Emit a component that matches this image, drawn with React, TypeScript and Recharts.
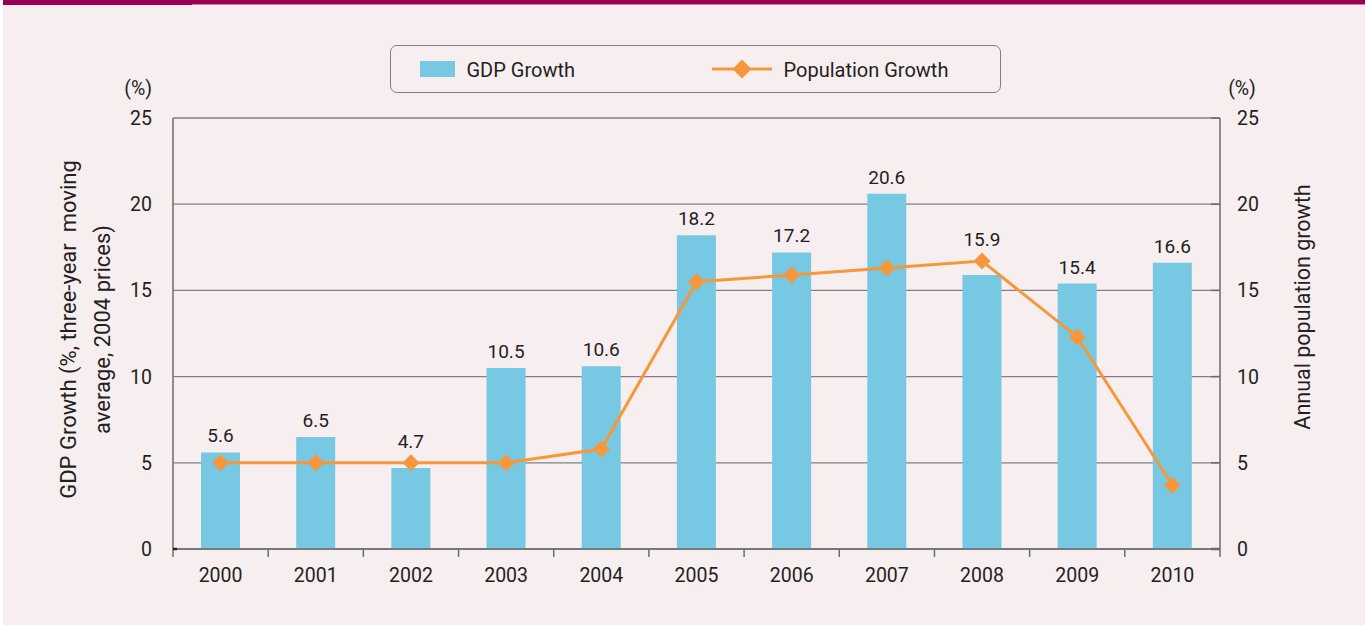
import { ComposedChart, Bar, Line, XAxis, YAxis, CartesianGrid, LabelList } from 'recharts';

const FONT = "Roboto, 'Liberation Sans', sans-serif";

const years = ['2000', '2001', '2002', '2003', '2004', '2005', '2006', '2007', '2008', '2009', '2010'];
const gdpGrowth = [5.6, 6.5, 4.7, 10.5, 10.6, 18.2, 17.2, 20.6, 15.9, 15.4, 16.6];
const populationGrowth = [5.0, 5.0, 5.0, 5.0, 5.8, 15.5, 15.9, 16.3, 16.7, 12.3, 3.7];
const yTicks = [0, 5, 10, 15, 20, 25];

const GDP_NAME = 'GDP Growth';
const POP_NAME = 'Population Growth';
const LEFT_TITLE = ['GDP Growth (%, three-year  moving', 'average, 2004 prices)'];
const RIGHT_TITLE = 'Annual population growth';

const BAR = '#76c8e3';
const LINE = '#f7973b';
const AXIS = '#6b6b6b';
const GRID = '#808080';
const TEXT = '#231f20';
const BG = '#f7eef0';

const data = years.map((year, i) => ({ year, gdp: gdpGrowth[i], pop: populationGrowth[i] }));

const Diamond = ({ cx, cy, r = 8.5 }: any) => {
  if (cx == null || cy == null) return null;
  return <path d={`M${cx},${cy - r}L${cx + r},${cy}L${cx},${cy + r}L${cx - r},${cy}Z`} fill={LINE} />;
};

const YearTick = (props: any) => {
  const { x, y, payload, index, visibleTicksCount, width } = props;
  const half = payload.offset || width / visibleTicksCount / 2;
  const last = index === visibleTicksCount - 1;
  return (
    <g>
      <line x1={x - half} x2={x - half} y1={y} y2={y + 8} stroke={AXIS} strokeWidth={1.5} />
      {last && <line x1={x + half} x2={x + half} y1={y} y2={y + 8} stroke={AXIS} strokeWidth={1.5} />}
      <text x={x} y={y + 33} textAnchor="middle" fill={TEXT} fontSize={19.5} fontFamily={FONT}>
        {payload.value}
      </text>
    </g>
  );
};

const LeftTick = (props: any) => {
  const { x, y, payload } = props;
  return (
    <g>
      {payload.value === 0 && <line x1={x} x2={x + 4} y1={y} y2={y} stroke={TEXT} strokeWidth={2.5} />}
      <text x={x - 21} y={y + 7} textAnchor="end" fill={TEXT} fontSize={19.5} fontFamily={FONT}>
        {payload.value}
      </text>
    </g>
  );
};

const RightTick = (props: any) => {
  const { x, y, payload } = props;
  return (
    <g>
      <line x1={x - 9} x2={x} y1={y} y2={y} stroke={AXIS} strokeWidth={payload.value === 0 ? 2.5 : 1.5} />
      <text x={x + 17} y={y + 7} textAnchor="start" fill={TEXT} fontSize={19.5} fontFamily={FONT}>
        {payload.value}
      </text>
    </g>
  );
};

const LeftTitle = ({ viewBox }: any) => {
  const { x, y, width, height } = viewBox;
  const cy = y + height / 2 - 4;
  return (
    <g fill={TEXT} fontFamily={FONT}>
      <text x={x + width - 21} y={y - 30} textAnchor="end" dominantBaseline="central" fontSize={19.5}>(%)</text>
      {LEFT_TITLE.map((line, i) => {
        const tx = x + 68 + i * 34;
        return (
          <text key={i} x={tx} y={cy} transform={`rotate(-90 ${tx} ${cy})`} textAnchor="middle"
            dominantBaseline="central" fontSize={22} style={{ whiteSpace: 'pre' }}>
            {line}
          </text>
        );
      })}
    </g>
  );
};

const RightTitle = ({ viewBox }: any) => {
  const { x, y } = viewBox;
  const tx = x + 82;
  const cy = y + 189;
  return (
    <g fill={TEXT} fontFamily={FONT}>
      <text x={x + 22} y={y - 30} textAnchor="middle" dominantBaseline="central" fontSize={19.5}>(%)</text>
      <text x={tx} y={cy} transform={`rotate(-90 ${tx} ${cy})`} textAnchor="middle"
        dominantBaseline="central" fontSize={21.5}>
        {RIGHT_TITLE}
      </text>
    </g>
  );
};

const BarValueLabel = (props: any) => {
  const { x, y, width, height, value, index } = props;
  const perUnit = height / value;
  const lineY = y + height - populationGrowth[index] * perUnit;
  const base = Math.min(y - 10, lineY - 15);
  return (
    <text x={x + width / 2} y={base} textAnchor="middle" fill={TEXT} fontSize={19} fontFamily={FONT}>
      {Number(value).toFixed(1)}
    </text>
  );
};

const ChartLegend = () => (
  <div
    style={{
      position: 'absolute', left: 390, top: 45, width: 611, height: 48, boxSizing: 'border-box',
      border: `1.5px solid ${GRID}`, borderRadius: 7, fontFamily: FONT, fontSize: 20, color: TEXT,
    }}
  >
    <div style={{ position: 'absolute', left: 28.5, top: 14.5, width: 35, height: 16, background: BAR }} />
    <div style={{ position: 'absolute', left: 75.5, top: 12, lineHeight: '24px' }}>{GDP_NAME}</div>
    <svg style={{ position: 'absolute', left: 321, top: 11.5 }} width={60} height={22}>
      <line x1={0} x2={60} y1={11} y2={11} stroke={LINE} strokeWidth={3} />
      <Diamond cx={30} cy={11} r={9.5} />
    </svg>
    <div style={{ position: 'absolute', left: 392.5, top: 12, lineHeight: '24px' }}>{POP_NAME}</div>
  </div>
);

export default function App() {
  return (
    <div style={{ position: 'absolute', left: 0, top: 0, width: 1366, height: 626, background: '#ffffff', overflow: 'hidden' }}>
      <div style={{ position: 'absolute', left: 3, top: 0, width: 1362, height: 625, background: BG }} />
      <div style={{ position: 'absolute', left: 3, top: 0, width: 1362, height: 4, background: '#9c0050' }} />
      <div style={{ position: 'absolute', left: 3, top: 0, width: 189, height: 5, background: '#9c0050' }} />
      <div style={{ position: 'absolute', left: 192, top: 4, width: 1173, height: 1, background: '#cf7fa6' }} />
      <div style={{ position: 'absolute', left: 0, top: 0 }}>
        <ComposedChart width={1366} height={626} data={data} margin={{ top: 118, right: 0, bottom: 0, left: 0 }}
          barCategoryGap={0}>
          <CartesianGrid yAxisId="left" vertical={false} stroke={GRID} strokeWidth={1.3} />
          <XAxis dataKey="year" height={77} tickSize={0} tickMargin={0} tickLine={false}
            axisLine={{ stroke: AXIS, strokeWidth: 1.5 }} tick={<YearTick />} interval={0} />
          <YAxis yAxisId="left" orientation="left" width={173} domain={[0, 25]} ticks={yTicks}
            tickSize={0} tickMargin={0} tickLine={false} axisLine={{ stroke: AXIS, strokeWidth: 1.5 }}
            tick={<LeftTick />} label={{ content: (p: any) => <LeftTitle viewBox={p.viewBox} /> }} />
          <YAxis yAxisId="right" orientation="right" width={146} domain={[0, 25]} ticks={yTicks}
            tickSize={0} tickMargin={0} tickLine={false} axisLine={{ stroke: AXIS, strokeWidth: 1.5 }}
            tick={<RightTick />} label={{ content: (p: any) => <RightTitle viewBox={p.viewBox} /> }} />
          <Bar yAxisId="left" dataKey="gdp" name={GDP_NAME} fill={BAR} barSize={39} isAnimationActive={false}>
            <LabelList dataKey="gdp" content={<BarValueLabel />} />
          </Bar>
          <Line yAxisId="right" dataKey="pop" name={POP_NAME} type="linear" stroke={LINE} strokeWidth={3}
            dot={(p: any) => <Diamond key={p.index} cx={p.cx} cy={p.cy} />} activeDot={false}
            isAnimationActive={false} />
        </ComposedChart>
      </div>
      <ChartLegend />
    </div>
  );
}
